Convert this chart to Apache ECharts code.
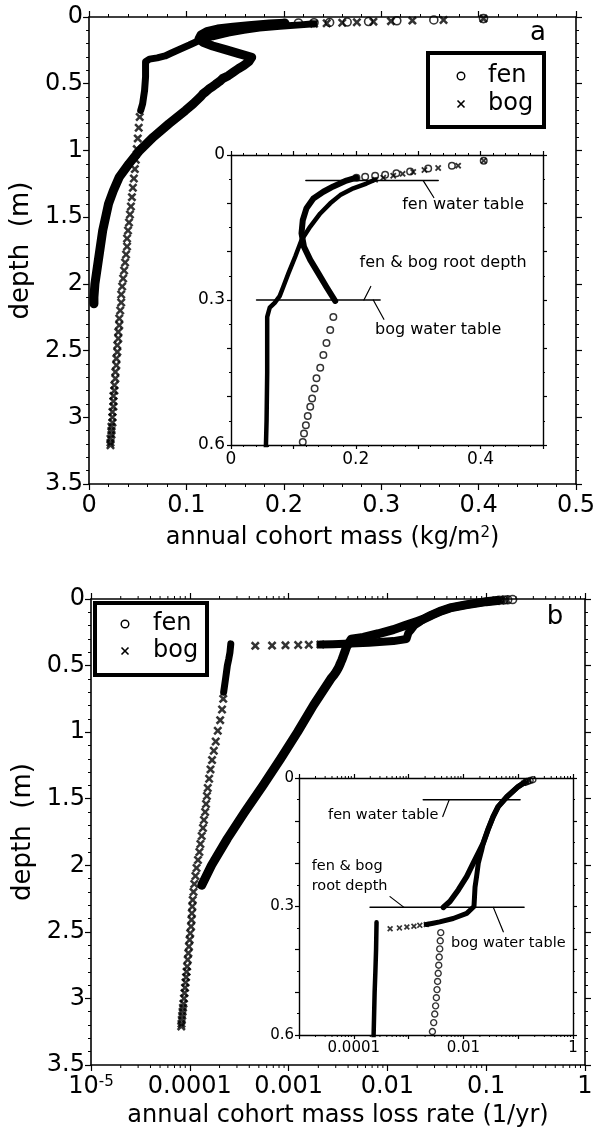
<!DOCTYPE html>
<html><head><meta charset="utf-8">
<script src="https://cdn.jsdelivr.net/npm/echarts@6/dist/echarts.min.js"></script>
<style>html,body{margin:0;padding:0;background:#fff}#c{width:600px;height:1131px}</style>
</head><body><div id="c"></div><script>
// ---------- DATA ----------
// Panel a: annual cohort mass (kg/m2) vs depth (m), pairs [mass, depth]
const massFenTop = [[0.405,0.012],[0.354,0.022],[0.316,0.028],[0.287,0.034],[0.265,0.038],[0.247,0.041],[0.231,0.043],[0.215,0.045],[0.201,0.047]];
const massFenCurve = [[0.201,0.047],[0.185,0.053],[0.164,0.065],[0.148,0.076],[0.132,0.090],[0.121,0.110],[0.115,0.135],[0.113,0.162],[0.117,0.190],[0.127,0.217],[0.140,0.245],[0.153,0.273],[0.167,0.302]];
const massFenBelowRoots = [[0.164,0.335],[0.159,0.362],[0.153,0.389],[0.148,0.414],[0.143,0.440],[0.137,0.462],[0.134,0.483],[0.130,0.504],[0.127,0.521],[0.123,0.540],[0.120,0.559],[0.117,0.576],[0.115,0.594]];
const massFenDeep = [[0.107,0.65],[0.099,0.70],[0.082,0.80],[0.066,0.90],[0.052,1.00],[0.041,1.10],[0.031,1.20],[0.025,1.30],[0.020,1.40],[0.017,1.50],[0.014,1.60],[0.011,1.75],[0.008,1.90],[0.006,2.00],[0.005,2.10],[0.005,2.15]];
const massBogTop = [[0.405,0.012],[0.364,0.022],[0.332,0.027],[0.310,0.031],[0.292,0.035],[0.275,0.039],[0.260,0.043],[0.244,0.047],[0.231,0.051]];
const massBogCurve = [[0.231,0.051],[0.217,0.059],[0.196,0.069],[0.175,0.083],[0.159,0.100],[0.143,0.121],[0.127,0.148],[0.113,0.176],[0.103,0.210],[0.092,0.245],[0.084,0.272],[0.078,0.292],[0.070,0.306],[0.062,0.316],[0.058,0.335],[0.058,0.362],[0.058,0.45],[0.057,0.55],[0.056,0.60],[0.055,0.65],[0.053,0.70]];
const massBogDeep = [[0.052,0.75],[0.051,0.83],[0.050,0.91],[0.049,0.99],[0.048,1.07],[0.047,1.14],[0.046,1.21],[0.045,1.28],[0.044,1.35],[0.043,1.42],[0.042,1.48],[0.041,1.54],[0.040,1.60],[0.039,1.66],[0.039,1.72],[0.038,1.78],[0.037,1.84],[0.036,1.90],[0.035,1.96],[0.034,2.02],[0.033,2.08],[0.033,2.14],[0.032,2.20],[0.031,2.26],[0.031,2.31],[0.030,2.36],[0.030,2.41],[0.029,2.46],[0.029,2.51],[0.028,2.56],[0.028,2.61],[0.027,2.66],[0.027,2.71],[0.026,2.76],[0.026,2.80],[0.025,2.84],[0.025,2.88],[0.025,2.92],[0.024,2.96],[0.024,3.00],[0.024,3.04],[0.023,3.07],[0.023,3.10],[0.023,3.13],[0.022,3.16],[0.022,3.19],[0.022,3.21]];

// Panel b: annual cohort mass loss rate (1/yr) vs depth (m), pairs [rate, depth]
const rateFenTop = [[0.185,0.004],[0.165,0.006],[0.150,0.008],[0.135,0.010]];
const rateFenCurve = [[0.130,0.011],[0.100,0.020],[0.062,0.044],[0.043,0.067],[0.035,0.090],[0.028,0.121],[0.023,0.152],[0.0200,0.168],[0.0151,0.199],[0.0115,0.230],[0.0081,0.261],[0.0057,0.288],[0.0043,0.302]];
const rateFenBelowRoots = [[0.00386,0.361],[0.00378,0.380],[0.00370,0.399],[0.00362,0.418],[0.00355,0.437],[0.00347,0.456],[0.00338,0.475],[0.00330,0.494],[0.00321,0.513],[0.00311,0.532],[0.00300,0.551],[0.00287,0.571],[0.00272,0.592]];
const rateFenDeep = [[0.00257,0.62],[0.00178,0.80],[0.00123,1.00],[0.00083,1.20],[0.00055,1.40],[0.00036,1.60],[0.00024,1.80],[0.000166,2.00],[0.000132,2.15]];
const rateBogTop = [[0.155,0.006],[0.140,0.009],[0.125,0.012]];
const rateBogCurve = [[0.125,0.012],[0.100,0.020],[0.062,0.044],[0.043,0.067],[0.035,0.090],[0.028,0.121],[0.023,0.152],[0.0216,0.168],[0.0187,0.199],[0.0174,0.230],[0.0163,0.255],[0.0156,0.300],[0.0115,0.316],[0.0065,0.328],[0.0037,0.336],[0.0028,0.339],[0.0021,0.342]];
const rateBogJump = [[0.0021,0.342],[0.0016,0.344],[0.00125,0.346],[0.00093,0.348],[0.00068,0.350],[0.00046,0.352]];
const rateBogColumn = [[0.00026,0.337],[0.000255,0.40],[0.000248,0.45],[0.00024,0.50],[0.000235,0.55],[0.00023,0.60],[0.000225,0.65],[0.00022,0.70]];
const rateBogDeep = [[0.000218,0.75],[0.000212,0.83],[0.000203,0.91],[0.000192,0.99],[0.000183,1.07],[0.000175,1.14],[0.000168,1.21],[0.000162,1.28],[0.000157,1.35],[0.000152,1.42],[0.000149,1.48],[0.000146,1.54],[0.000143,1.60],[0.000139,1.66],[0.000136,1.72],[0.000132,1.78],[0.000128,1.84],[0.000125,1.90],[0.000121,1.96],[0.000117,2.02],[0.000114,2.08],[0.000111,2.14],[0.000109,2.20],[0.000107,2.26],[0.000106,2.31],[0.000105,2.36],[0.000104,2.41],[0.000103,2.46],[0.000101,2.51],[0.0000995,2.56],[0.0000981,2.61],[0.0000967,2.66],[0.0000953,2.71],[0.000094,2.76],[0.0000928,2.80],[0.0000917,2.84],[0.0000906,2.88],[0.0000895,2.92],[0.0000884,2.96],[0.0000873,3.00],[0.0000862,3.04],[0.0000853,3.07],[0.0000845,3.10],[0.0000838,3.13],[0.000083,3.16],[0.0000824,3.19],[0.000082,3.21]];

// Reference lines (water table / root depth) and leaders, in data units
const massFenWaterTable = [[0.120,0.053],[0.332,0.053]];
const massRootBogTable = [[0.041,0.300],[0.239,0.300]];
const massLeaderFenWT = [[0.308,0.053],[0.325,0.088]];
const massLeaderRoot = [[0.213,0.300],[0.224,0.272]];
const massLeaderBogWT = [[0.228,0.300],[0.245,0.340]];
const rateFenWaterTable = [[0.00185,0.051],[0.108,0.051]];
const rateRootBogTable = [[0.000198,0.302],[0.128,0.302]];
const rateLeaderFenWT = [[0.0055,0.051],[0.0042,0.090]];
const rateLeaderRoot = [[0.000458,0.277],[0.000824,0.302]];
const rateLeaderBogWT = [[0.0352,0.302],[0.0535,0.359]];

// Tick labels
const depthInsetLabels = ['0','0.3','0.6'];
const massInsetLabels = ['0','0.2','0.4'];
const rateMainLabels = {'-5':'10{s|-5}','-4':'0.0001','-3':'0.001','-2':'0.01','-1':'0.1','0':'1'};
const rateInsetLabels = {'-4':'0.0001','-2':'0.01','0':'1'};

// ---------- CHART ----------
const FONT = 'DejaVu Sans';
const XSYM = 'path://M0,2L2,0L5,3L8,0L10,2L7,5L10,8L8,10L5,7L2,10L0,8L3,5Z';
const chart = echarts.init(document.getElementById('c'));

const grids = [
  {left:84, top:17, width:492, height:467},
  {left:231, top:155, width:312, height:290},
  {left:91, top:599, width:494, height:466},
  {left:299, top:778, width:274, height:257}
];

function baseAxis(lw, tl, ml, split) {
  return {
    axisLine:{show:true,onZero:false,lineStyle:{color:'#000',width:lw}},
    axisTick:{show:true,inside:false,length:tl,lineStyle:{color:'#000',width:1.2}},
    minorTick:{show:split>0,splitNumber:split||5,length:ml,lineStyle:{color:'#000',width:1}},
    splitLine:{show:false}, minorSplitLine:{show:false}
  };
}
const xAxes = [], yAxes = [];
function addAxes(g, s) {
  ['bottom','top'].forEach((pos,i) => {
    const a = Object.assign(baseAxis(s.lw, s.tl, s.ml, s.xSplit), {
      gridIndex:g, position:pos, type:s.xType, min:s.xMin, max:s.xMax,
      axisLabel:{show:i===0, margin:s.xMargin, color:'#000', fontFamily:FONT, fontSize:s.font, formatter:s.xFmt, rich:{s:{fontFamily:FONT,fontSize:Math.round(s.font*0.62),verticalAlign:'top',color:'#000'}}},
      name: i===0 ? s.xName : '', nameLocation:'middle', nameGap:s.xGap,
      nameTextStyle:{color:'#000',fontFamily:FONT,fontSize:24,rich:{s:{fontFamily:FONT,fontSize:15,verticalAlign:'top',color:'#000'}}}
    });
    if (s.xType === 'log') { a.logBase = 10; } else { a.interval = s.xInterval; }
    xAxes.push(a);
  });
  ['left','right'].forEach((pos,i) => {
    yAxes.push(Object.assign(baseAxis(s.lw, s.tl, s.ml, s.ySplit), {
      gridIndex:g, position:pos, type:'value', inverse:true, min:0, max:s.yMax, interval:s.yInterval,
      axisLabel:{show:i===0, margin:s.yMargin, color:'#000', fontFamily:FONT, fontSize:s.font, formatter:s.yFmt},
      name: i===0 ? s.yName : '', nameLocation:'middle', nameGap:s.yGap, nameRotate:90,
      nameTextStyle:{color:'#000',fontFamily:FONT,fontSize:26}
    }));
  });
}
const fmtDepthInset = v => { const t = String(+v.toFixed(2)); return depthInsetLabels.includes(t) ? t : ''; };
const fmtMassInset = v => { const t = String(+v.toFixed(2)); return massInsetLabels.includes(t) ? t : ''; };
const fmtRateMain = v => rateMainLabels[String(Math.round(Math.log10(v)))] || '';
const fmtRateInset = v => rateInsetLabels[String(Math.round(Math.log10(v)))] || '';

addAxes(0, {lw:1.6, tl:6, ml:3, xMargin:10, yMargin:6, font:24, xType:'value', xMin:0, xMax:0.5, xInterval:0.1, xSplit:5,
  xName:'annual cohort mass (kg/m{s|2})', xGap:42, yMax:3.5, yInterval:0.5, ySplit:5, yName:'depth  (m)', yGap:46});
addAxes(1, {lw:1.4, tl:4, ml:2, xMargin:6, yMargin:6, font:17, xType:'value', xMin:0, xMax:0.5, xInterval:0.1, xSplit:5, xFmt:fmtMassInset,
  xName:'', xGap:0, yMax:0.6, yInterval:0.1, ySplit:2, yFmt:fmtDepthInset, yName:'', yGap:0});
addAxes(2, {lw:1.6, tl:6, ml:3, xMargin:10, yMargin:6, font:24, xType:'log', xMin:1e-5, xMax:1, xSplit:0, xFmt:fmtRateMain,
  xName:'annual cohort mass loss rate (1/yr)', xGap:39, yMax:3.5, yInterval:0.5, ySplit:5, yName:'depth  (m)', yGap:46});
addAxes(3, {lw:1.4, tl:4, ml:2, xMargin:6, yMargin:5, font:15, xType:'log', xMin:1e-5, xMax:1, xSplit:0, xFmt:fmtRateInset,
  xName:'', xGap:0, yMax:0.6, yInterval:0.1, ySplit:2, yFmt:fmtDepthInset, yName:'', yGap:0});

function lineS(data, g, w) {
  return {type:'line', xAxisIndex:2*g, yAxisIndex:2*g, data:data, symbol:'none', showSymbol:false,
    lineStyle:{color:'#000', width:w, cap:'round', join:'round'}, silent:true, animation:false, z:3};
}
function circS(data, g, size, bw) {
  return {type:'scatter', xAxisIndex:2*g, yAxisIndex:2*g, data:data, symbol:'circle', symbolSize:size,
    itemStyle:{color:'rgba(0,0,0,0)', borderColor:'#000', borderWidth:bw}, silent:true, animation:false, z:4};
}
function crossS(data, g, size) {
  return {type:'scatter', xAxisIndex:2*g, yAxisIndex:2*g, data:data, symbol:XSYM, symbolSize:size,
    itemStyle:{color:'#000'}, silent:true, animation:false, z:4};
}
// minor ticks of log axes (2..9 per decade) drawn through the axis scale
const logMinor = [];
for (let e = -5; e < 0; e++) for (let m = 2; m <= 9; m++) logMinor.push([m * Math.pow(10, e), 0]);
function logMinorS(g, yMax, len) {
  return {type:'custom', xAxisIndex:2*g, yAxisIndex:2*g, data:logMinor, silent:true, animation:false, clip:false, z:2,
    renderItem:(params, api) => {
      const v = api.value(0);
      const t = api.coord([v, 0]), b = api.coord([v, yMax]);
      return {type:'group', children:[
        {type:'line', shape:{x1:t[0],y1:t[1],x2:t[0],y2:t[1]-len}, style:{stroke:'#000',lineWidth:1}},
        {type:'line', shape:{x1:b[0],y1:b[1],x2:b[0],y2:b[1]+len}, style:{stroke:'#000',lineWidth:1}}
      ]};
    }};
}

const series = [
  // main a
  lineS(massFenCurve.concat(massFenBelowRoots, massFenDeep), 0, 9),
  circS(massFenTop, 0, 8, 1.6),
  lineS(massBogCurve, 0, 7),
  crossS(massBogTop, 0, 9),
  crossS(massBogDeep, 0, 9),
  // inset a
  lineS(massFenCurve, 1, 6),
  circS(massFenBelowRoots, 1, 6.5, 1.5),
  circS(massFenTop, 1, 6.5, 1.5),
  lineS(massBogCurve, 1, 4.5),
  crossS(massBogTop, 1, 6.5),
  lineS(massFenWaterTable, 1, 1.5), lineS(massRootBogTable, 1, 1.5),
  lineS(massLeaderFenWT, 1, 1.2), lineS(massLeaderRoot, 1, 1.2), lineS(massLeaderBogWT, 1, 1.2),
  // main b
  lineS(rateFenCurve.concat(rateFenBelowRoots, rateFenDeep), 2, 9),
  circS(rateFenTop, 2, 8, 1.6),
  lineS(rateBogCurve, 2, 8),
  crossS(rateBogTop, 2, 9),
  crossS(rateBogJump, 2, 9),
  lineS(rateBogColumn, 2, 7),
  crossS(rateBogDeep, 2, 9),
  logMinorS(2, 3.5, 3),
  // inset b
  lineS(rateFenCurve, 3, 5.5),
  circS(rateFenBelowRoots, 3, 6, 1.4),
  circS(rateFenTop, 3, 6, 1.4),
  lineS(rateBogCurve, 3, 5),
  crossS(rateBogTop, 3, 6),
  crossS(rateBogJump, 3, 6),
  lineS(rateBogColumn, 3, 4.5),
  lineS(rateFenWaterTable, 3, 1.5), lineS(rateRootBogTable, 3, 1.5),
  lineS(rateLeaderFenWT, 3, 1.2), lineS(rateLeaderRoot, 3, 1.2), lineS(rateLeaderBogWT, 3, 1.2),
  logMinorS(3, 0.6, 2)
];

chart.setOption({
  animation:false,
  backgroundColor:'#fff',
  grid: grids.map((g,i) => Object.assign({containLabel:false, show:i%2===1, backgroundColor:'#fff', borderWidth:0}, g)),
  xAxis: xAxes, yAxis: yAxes, series: series
});

// ---------- annotations & legends ----------
const insetASeries = 5, insetBSeries = 23;
const notes = [
  {si:insetASeries, at:[0.372,0.104], text:'fen water table', size:16, align:'center'},
  {si:insetASeries, at:[0.340,0.224], text:'fen & bog root depth', size:16, align:'center'},
  {si:insetASeries, at:[0.332,0.362], text:'bog water table', size:16, align:'center'},
  {si:insetBSeries, at:[0.000345,0.088], text:'fen water table', size:14.5, align:'center'},
  {si:insetBSeries, at:[0.000017,0.230], text:'fen & bog\nroot depth', size:14.5, align:'left'},
  {si:insetBSeries, at:[0.066,0.385], text:'bog water table', size:14.5, align:'center'}
];
const gfx = notes.map(n => {
  const p = chart.convertToPixel({seriesIndex:n.si}, n.at);
  return {type:'text', x:p[0], y:p[1], z:20, style:{text:n.text, fontFamily:FONT, fontSize:n.size, fill:'#000',
    align:n.align, verticalAlign:'middle', textAlign:n.align, textVerticalAlign:'middle', lineHeight:20}};
});
function legend(x, y, w, h, sx, tx, y1, y2) {
  return [
    {type:'rect', z:30, shape:{x:x, y:y, width:w, height:h}, style:{fill:'#fff', stroke:'#000', lineWidth:4}},
    {type:'circle', z:31, shape:{cx:sx, cy:y1, r:3.8}, style:{fill:'none', stroke:'#000', lineWidth:1.4}},
    {type:'line', z:31, shape:{x1:sx-3.5, y1:y2-3.5, x2:sx+3.5, y2:y2+3.5}, style:{stroke:'#000', lineWidth:1.6}},
    {type:'line', z:31, shape:{x1:sx-3.5, y1:y2+3.5, x2:sx+3.5, y2:y2-3.5}, style:{stroke:'#000', lineWidth:1.6}},
    {type:'text', z:31, x:tx, y:y1, style:{text:'fen', fontFamily:FONT, fontSize:24, fill:'#000', verticalAlign:'middle', textVerticalAlign:'middle'}},
    {type:'text', z:31, x:tx, y:y2, style:{text:'bog', fontFamily:FONT, fontSize:24, fill:'#000', verticalAlign:'middle', textVerticalAlign:'middle'}}
  ];
}
const panelLabels = [
  {type:'text', z:30, x:538, y:33, style:{text:'a', fontFamily:FONT, fontSize:26, fill:'#000', align:'center', verticalAlign:'middle', textAlign:'center', textVerticalAlign:'middle'}},
  {type:'text', z:30, x:555, y:617, style:{text:'b', fontFamily:FONT, fontSize:26, fill:'#000', align:'center', verticalAlign:'middle', textAlign:'center', textVerticalAlign:'middle'}}
];
chart.setOption({graphic: gfx.concat(legend(428,53,116,74,461,488,76,104), legend(95,603,112,72,125,153,624,651), panelLabels)});
</script></body></html>
